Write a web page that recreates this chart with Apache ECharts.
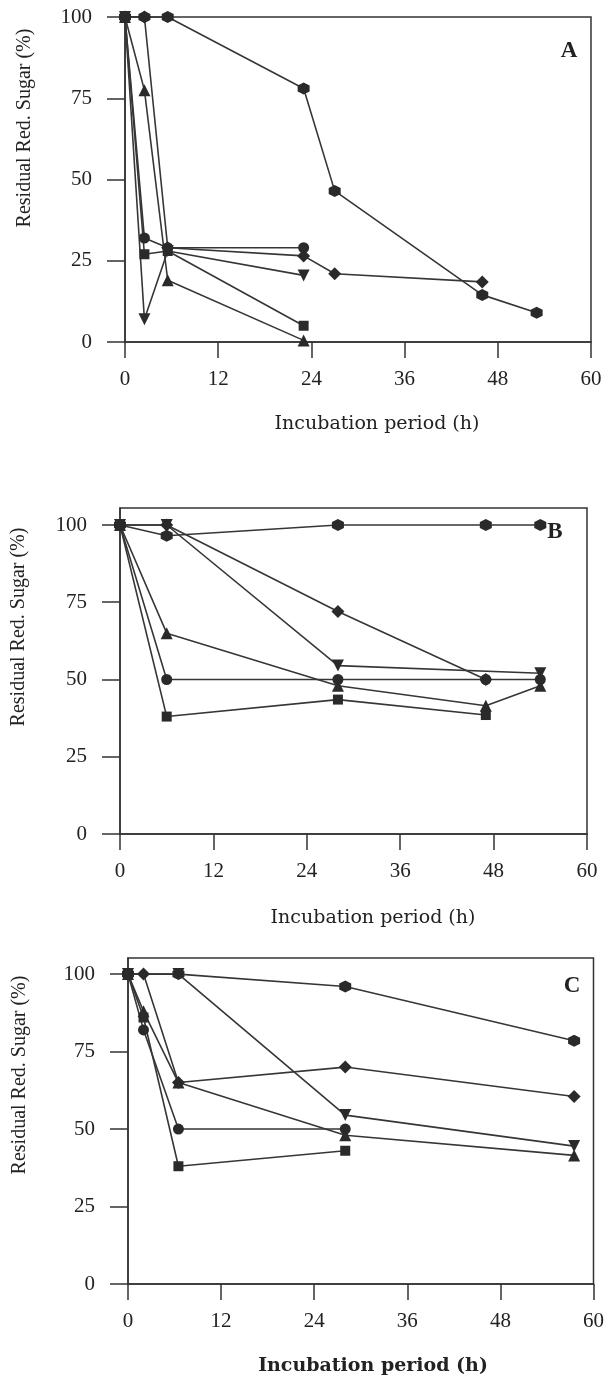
<!DOCTYPE html>
<html>
<head>
<meta charset="utf-8">
<script src="https://cdn.jsdelivr.net/npm/echarts@6/dist/echarts.min.js"></script>
<style>
  html, body { margin: 0; padding: 0; background: #fff; }
  #chart { width: 607px; height: 1381px; }
</style>
</head>
<body>
<div id="chart"></div>
<script>
// Incubation times (h) and residual reducing sugar (%) for each culture series.

// Panel A
const A_hex_t = [0, 2.5, 5.5, 23, 27, 46, 53];
const A_hex_v = [100, 100, 100, 78, 46.5, 14.5, 9];
const A_dia_t = [0, 2.5, 5.5, 23, 27, 46];
const A_dia_v = [100, 100, 29, 26.5, 21, 18.5];
const A_cir_t = [0, 2.5, 5.5, 23];
const A_cir_v = [100, 32, 29, 29];
const A_sqr_t = [0, 2.5, 5.5, 23];
const A_sqr_v = [100, 27, 28, 5];
const A_up_t = [0, 2.5, 5.5, 23];
const A_up_v = [100, 77.5, 19, 0.5];
const A_dn_t = [0, 2.5, 5.5, 23];
const A_dn_v = [100, 7, 28, 20.5];

// Panel B
const B_hex_t = [0, 6, 28, 47, 54];
const B_hex_v = [100, 96.5, 100, 100, 100];
const B_dia_t = [0, 6, 28, 47];
const B_dia_v = [100, 100, 72, 50];
const B_dn_t = [0, 6, 28, 54];
const B_dn_v = [100, 100, 54.5, 52];
const B_up_t = [0, 6, 28, 47, 54];
const B_up_v = [100, 65, 48, 41.5, 48];
const B_cir_t = [0, 6, 28, 47, 54];
const B_cir_v = [100, 50, 50, 50, 50];
const B_sqr_t = [0, 6, 28, 47];
const B_sqr_v = [100, 38, 43.5, 38.5];

// Panel C
const C_hex_t = [0, 6.5, 28, 57.5];
const C_hex_v = [100, 100, 96, 78.5];
const C_dia_t = [0, 2, 6.5, 28, 57.5];
const C_dia_v = [100, 100, 65, 70, 60.5];
const C_dn_t = [0, 6.5, 28, 57.5];
const C_dn_v = [100, 100, 54.5, 44.5];
const C_up_t = [0, 2, 6.5, 28, 57.5];
const C_up_v = [100, 88, 65, 48, 41.5];
const C_cir_t = [0, 2, 6.5, 28];
const C_cir_v = [100, 82, 50, 50];
const C_sqr_t = [0, 2, 6.5, 28];
const C_sqr_v = [100, 86, 38, 43];

// Axis ticks
const xTicks = [0, 12, 24, 36, 48, 60];
const yTicks = [0, 25, 50, 75, 100];

const panelLetters = ['A', 'B', 'C'];
const xTitle = 'Incubation period (h)';
const yTitle = 'Residual Red. Sugar (%)';

const HEX = 'path://M50,0 L93.3,25 L93.3,75 L50,100 L6.7,75 L6.7,25 Z';
const INK = '#2a2a2a';
const LINE = '#363636';
const SERIF = '"Liberation Serif", "Times New Roman", serif';
const WIDE_SERIF = '"DejaVu Serif", serif';

function pts(t, v) { return t.map((x, i) => [x, v[i]]); }

function lineSeries(idx, t, v, symbol, size) {
  return {
    type: 'line',
    xAxisIndex: idx,
    yAxisIndex: idx,
    data: pts(t, v),
    symbol: symbol,
    symbolSize: size,
    showAllSymbol: true,
    lineStyle: { color: LINE, width: 1.6 },
    itemStyle: { color: INK, borderWidth: 0 },
    emphasis: { disabled: true },
    clip: false
  };
}

const panels = [
  { hex: [A_hex_t, A_hex_v], dia: [A_dia_t, A_dia_v], cir: [A_cir_t, A_cir_v], sqr: [A_sqr_t, A_sqr_v], up: [A_up_t, A_up_v], dn: [A_dn_t, A_dn_v] },
  { hex: [B_hex_t, B_hex_v], dia: [B_dia_t, B_dia_v], cir: [B_cir_t, B_cir_v], sqr: [B_sqr_t, B_sqr_v], up: [B_up_t, B_up_v], dn: [B_dn_t, B_dn_v] },
  { hex: [C_hex_t, C_hex_v], dia: [C_dia_t, C_dia_v], cir: [C_cir_t, C_cir_v], sqr: [C_sqr_t, C_sqr_v], up: [C_up_t, C_up_v], dn: [C_dn_t, C_dn_v] }
];

// Plot rectangles (pixels) and upper y limits
const grids = [
  { left: 125, right: 16, top: 17, height: 325, ymax: 100 },
  { left: 120, right: 20, top: 508, height: 326, ymax: 105.5 },
  { left: 128, right: 13, top: 958, height: 326, ymax: 105.2 }
];

const axisLineStyle = { color: '#333', width: 1.5 };

const option = {
  animation: false,
  backgroundColor: '#ffffff',
  grid: grids.map(g => ({
    left: g.left, right: g.right, top: g.top, height: g.height,
    show: true, borderColor: '#333', borderWidth: 1.5, backgroundColor: 'transparent'
  })),
  xAxis: grids.map((g, i) => ({
    type: 'value', gridIndex: i,
    min: xTicks[0], max: xTicks[xTicks.length - 1], interval: xTicks[1] - xTicks[0],
    axisLine: { show: true, onZero: false, lineStyle: axisLineStyle },
    axisTick: { show: true, inside: false, length: 16, lineStyle: axisLineStyle },
    axisLabel: { fontFamily: SERIF, fontSize: 21, color: '#222', margin: 27 },
    splitLine: { show: false }
  })),
  yAxis: grids.map((g, i) => ({
    type: 'value', gridIndex: i,
    min: yTicks[0], max: g.ymax, interval: yTicks[1] - yTicks[0],
    axisLine: { show: true, onZero: false, lineStyle: axisLineStyle },
    axisTick: { show: true, inside: false, length: 18, lineStyle: axisLineStyle },
    axisLabel: {
      fontFamily: SERIF, fontSize: 21, color: '#222', margin: 33,
      showMaxLabel: g.ymax === yTicks[yTicks.length - 1],
      formatter: v => (yTicks.indexOf(v) >= 0 ? String(v) : '')
    },
    splitLine: { show: false }
  })),
  series: [],
  graphic: []
};

panels.forEach((p, i) => {
  option.series.push(
    lineSeries(i, p.hex[0], p.hex[1], HEX, 12),
    lineSeries(i, p.dia[0], p.dia[1], 'diamond', 13),
    lineSeries(i, p.cir[0], p.cir[1], 'circle', 11),
    lineSeries(i, p.sqr[0], p.sqr[1], 'rect', 10),
    lineSeries(i, p.up[0], p.up[1], 'triangle', 12),
    lineSeries(i, p.dn[0], p.dn[1], 'path://M0,0 L100,0 L50,86.6 Z', 12)
  );
});

// Axis titles and panel letters
const yTitlePos = [[25, 128], [19, 627], [20, 1075]];
const xTitlePos = [[377, 424], [373, 918], [373, 1366]];
const letterPos = [[569, 51], [555, 532], [572, 986]];

for (let i = 0; i < 3; i++) {
  option.graphic.push({
    type: 'text', x: yTitlePos[i][0], y: yTitlePos[i][1], rotation: Math.PI / 2,
    style: { text: yTitle, font: '20px ' + SERIF, fill: '#222', textAlign: 'center', textVerticalAlign: 'middle' }
  });
  option.graphic.push({
    type: 'text', x: xTitlePos[i][0], y: xTitlePos[i][1],
    style: { text: xTitle, font: (i === 2 ? 'bold ' : '') + '19px ' + WIDE_SERIF, fill: '#222', textAlign: 'center', textVerticalAlign: 'middle' }
  });
  option.graphic.push({
    type: 'text', x: letterPos[i][0], y: letterPos[i][1],
    style: { text: panelLetters[i], font: 'bold 23px ' + SERIF, fill: '#222', textAlign: 'center', textVerticalAlign: 'middle' }
  });
}

const chart = echarts.init(document.getElementById('chart'), null, { renderer: 'canvas' });
chart.setOption(option);
</script>
</body>
</html>
